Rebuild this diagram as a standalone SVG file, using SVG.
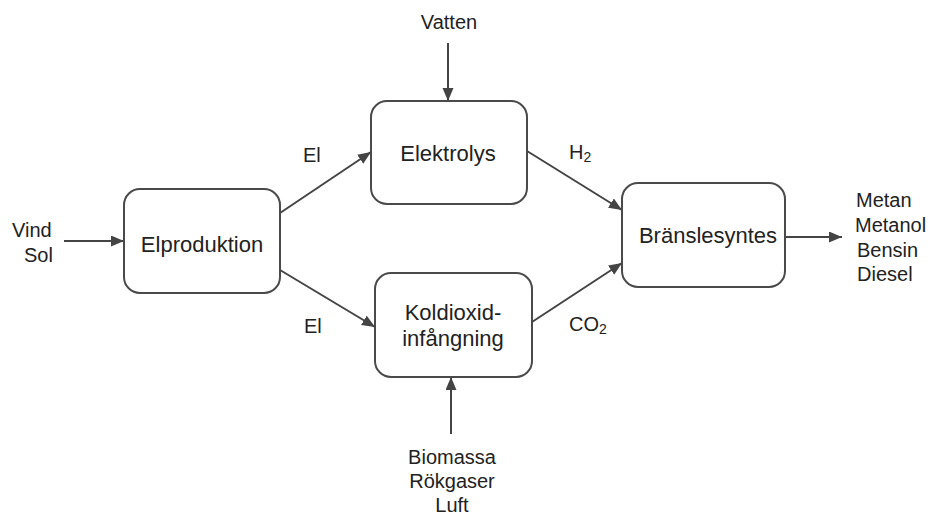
<svg xmlns="http://www.w3.org/2000/svg" width="932" height="515" viewBox="0 0 932 515">
<style>
.box{fill:#fff;stroke:#4a4a4a;stroke-width:2}
.node{font-family:"Liberation Sans",Arial,sans-serif;font-size:22px;fill:#222;text-anchor:middle}
.lbl{font-family:"Liberation Sans",Arial,sans-serif;font-size:20px;fill:#222}
.c{text-anchor:middle}
.conn line{stroke:#444;stroke-width:2;marker-end:url(#ah)}
</style>
<defs>
<marker id="ah" markerUnits="userSpaceOnUse" markerWidth="14" markerHeight="12" refX="13" refY="5.5" orient="auto">
<path d="M0,0 L13,5.5 L0,11 z" fill="#444"/>
</marker>
</defs>
<rect width="932" height="515" fill="#fff"/>
<g id="conn" class="conn">
<line x1="64" y1="241" x2="124" y2="241"/>
<line x1="280" y1="213" x2="371" y2="152"/>
<line x1="280" y1="270" x2="375" y2="327"/>
<line x1="527" y1="151" x2="622" y2="210"/>
<line x1="532" y1="322" x2="622" y2="263"/>
<line x1="785" y1="237" x2="842" y2="237"/>
<line x1="448" y1="43" x2="448" y2="101"/>
<line x1="451" y1="434" x2="451" y2="377"/>
</g>
<g id="elproduktion">
<rect class="box" x="124" y="189" width="156" height="104" rx="16"/>
<text class="node" x="202" y="252">Elproduktion</text>
</g>
<g id="elektrolys">
<rect class="box" x="371" y="101" width="156" height="103" rx="16"/>
<text class="node" x="448" y="161">Elektrolys</text>
</g>
<g id="koldioxid">
<rect class="box" x="375" y="273" width="157" height="104" rx="16"/>
<text class="node" x="453" y="320">Koldioxid-</text>
<text class="node" x="453" y="346">infångning</text>
</g>
<g id="bransle">
<rect class="box" x="622" y="183" width="163" height="104" rx="16"/>
<text class="node" x="708" y="243">Bränslesyntes</text>
</g>
<g id="labels">
<text class="lbl" x="12" y="237">Vind</text>
<text class="lbl" x="24" y="262">Sol</text>
<text class="lbl c" x="449" y="29">Vatten</text>
<text class="lbl" x="303" y="162">El</text>
<text class="lbl" x="304" y="333">El</text>
<text class="lbl" x="569" y="159">H<tspan font-size="14" dy="3">2</tspan></text>
<text class="lbl" x="569" y="331">CO<tspan font-size="14" dy="3">2</tspan></text>
<text class="lbl" x="856" y="207">Metan</text>
<text class="lbl" x="855" y="232">Metanol</text>
<text class="lbl" x="857" y="257">Bensin</text>
<text class="lbl" x="857" y="281">Diesel</text>
<text class="lbl c" x="452" y="464">Biomassa</text>
<text class="lbl c" x="452" y="488">Rökgaser</text>
<text class="lbl c" x="452" y="512">Luft</text>
</g>
</svg>
